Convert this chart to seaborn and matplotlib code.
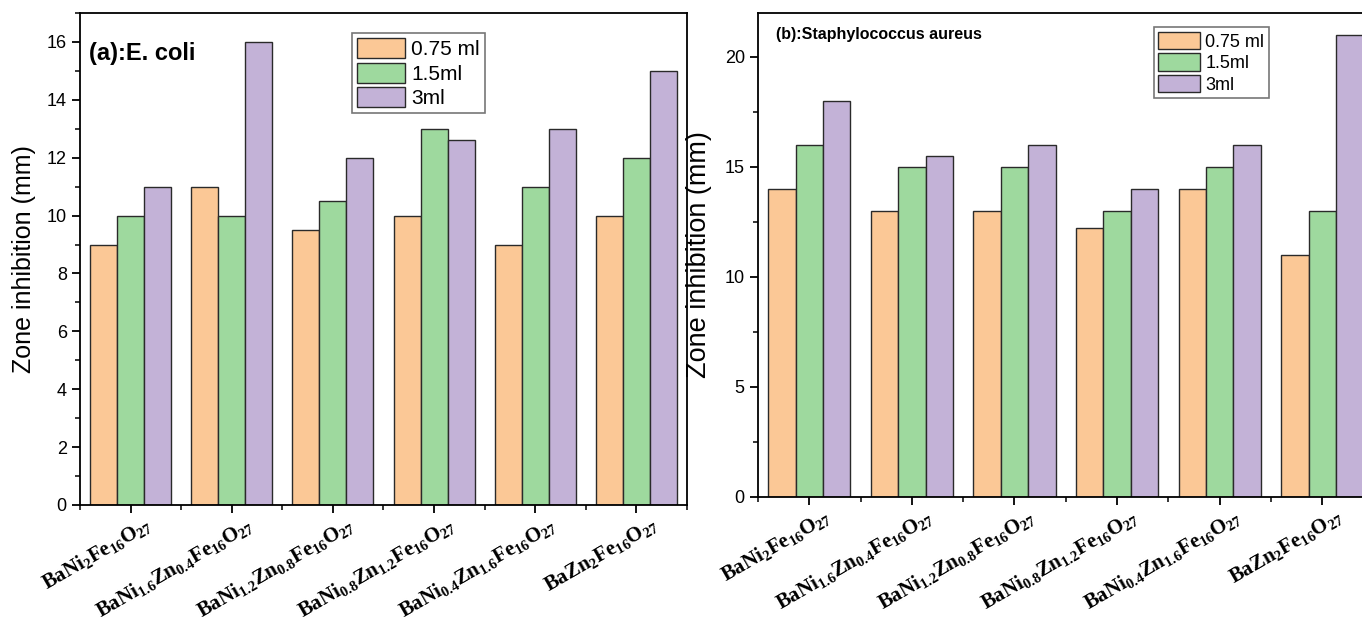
import numpy as np
import pandas as pd
import matplotlib.pyplot as plt
import seaborn as sns
from matplotlib.patches import Patch
from matplotlib.ticker import MultipleLocator
import matplotlib.transforms as mtransforms

# Data
samples = [r'$BaNi_2Fe_{16}O_{27}$',
           r'$BaNi_{1.6}Zn_{0.4}Fe_{16}O_{27}$',
           r'$BaNi_{1.2}Zn_{0.8}Fe_{16}O_{27}$',
           r'$BaNi_{0.8}Zn_{1.2}Fe_{16}O_{27}$',
           r'$BaNi_{0.4}Zn_{1.6}Fe_{16}O_{27}$',
           r'$BaZn_2Fe_{16}O_{27}$']
doses = ['0.75 ml', '1.5ml', '3ml']

ecoli_075 = [9, 11, 9.5, 10, 9, 10]
ecoli_15 = [10, 10, 10.5, 13, 11, 12]
ecoli_3 = [11, 16, 12, 12.6, 13, 15]

staph_075 = [14, 13, 13, 12.2, 14, 11]
staph_15 = [16, 15, 15, 13, 15, 13]
staph_3 = [18, 15.5, 16, 14, 16, 21]

colors = ['#FBC896', '#9ED99E', '#C3B2D7']


def long_df(a, b, c):
    rows = []
    for dose, vals in zip(doses, [a, b, c]):
        for s, v in zip(samples, vals):
            rows.append({"Sample": s, "Dose": dose, "Zone": v})
    return pd.DataFrame(rows)


df_a = long_df(ecoli_075, ecoli_15, ecoli_3)
df_b = long_df(staph_075, staph_15, staph_3)

sns.set_style('ticks')
plt.rcParams['font.family'] = ['Liberation Sans', 'DejaVu Sans']
plt.rcParams['mathtext.fontset'] = 'custom'
plt.rcParams['mathtext.rm'] = 'Liberation Serif:bold'
plt.rcParams['mathtext.it'] = 'Liberation Serif:bold'
plt.rcParams['mathtext.bf'] = 'Liberation Serif:bold'
plt.rcParams['text.color'] = 'black'
plt.rcParams['axes.labelcolor'] = 'black'
plt.rcParams['xtick.color'] = 'black'
plt.rcParams['ytick.color'] = 'black'

fig = plt.figure(figsize=(13.62, 6.2), dpi=100)
ax1 = fig.add_axes([0.0587, 0.1855, 0.4457, 0.7935])
ax2 = fig.add_axes([0.5565, 0.1984, 0.452, 0.781])


def draw(ax, df, ymax, major, minor, title, tsize, lab_x, lab_size, leg_xy, leg_size):
    sns.barplot(data=df, x="Sample", y="Zone", hue="Dose", order=samples,
                hue_order=doses, palette=colors, width=0.8, edgecolor='#2a2a2a',
                linewidth=1.0, legend=False, ax=ax, errorbar=None, saturation=1)
    ax.set_xlim(-0.5, 5.5)
    ax.set_ylim(0, ymax)
    ax.yaxis.set_major_locator(MultipleLocator(major))
    ax.yaxis.set_minor_locator(MultipleLocator(minor))
    ax.set_xticks(np.arange(-0.5, 6, 1), minor=True)
    ax.tick_params(axis='both', which='major', direction='out', length=6,
                   width=1.3, labelsize=13, color='black', labelcolor='black')
    ax.tick_params(axis='both', which='minor', direction='out', length=3.5,
                   width=1.1, color='black')
    ax.tick_params(axis='x', which='major', labelsize=15, pad=1)
    for lbl in ax.get_xticklabels():
        lbl.set_rotation(30)
        lbl.set_ha('right')
        lbl.set_va('top')
        lbl.set_rotation_mode('anchor')
        lbl.set_transform(lbl.get_transform() +
                          mtransforms.ScaledTranslation(14 / 100, 1 / 100, fig.dpi_scale_trans))
    for sp in ax.spines.values():
        sp.set_visible(True)
        sp.set_linewidth(1.3)
        sp.set_color('black')
    ax.set_xlabel('')
    ax.set_ylabel('Zone inhibition (mm)', fontsize=lab_size, color='black')
    ax.yaxis.set_label_coords(lab_x, 0.5)
    ax.text(*title[1], title[0], transform=ax.transAxes, fontsize=tsize,
            fontweight='bold', ha='left', va='center', color='black')
    handles = [Patch(facecolor=c, edgecolor='#2a2a2a', linewidth=1.0) for c in colors]
    leg = ax.legend(handles, doses, loc='upper left', bbox_to_anchor=leg_xy,
                    fontsize=leg_size, frameon=True, fancybox=False,
                    handlelength=2.3, handleheight=1.1, handletextpad=0.3,
                    labelspacing=0.15, borderpad=0.25, borderaxespad=0)
    leg.get_frame().set_edgecolor('#555555')
    leg.get_frame().set_linewidth(1.2)
    for t in leg.get_texts():
        t.set_color('black')


draw(ax1, df_a, 17, 2, 1, ('(a):E. coli', (0.015, 0.917)), 17, -0.072, 18,
     (0.448, 0.959), 15)
draw(ax2, df_b, 22, 5, 2.5, ('(b):Staphylococcus aureus', (0.03, 0.955)), 11.5, -0.075, 19.5,
     (0.643, 0.970), 13)

plt.savefig("out.png", dpi=100)
plt.close()
